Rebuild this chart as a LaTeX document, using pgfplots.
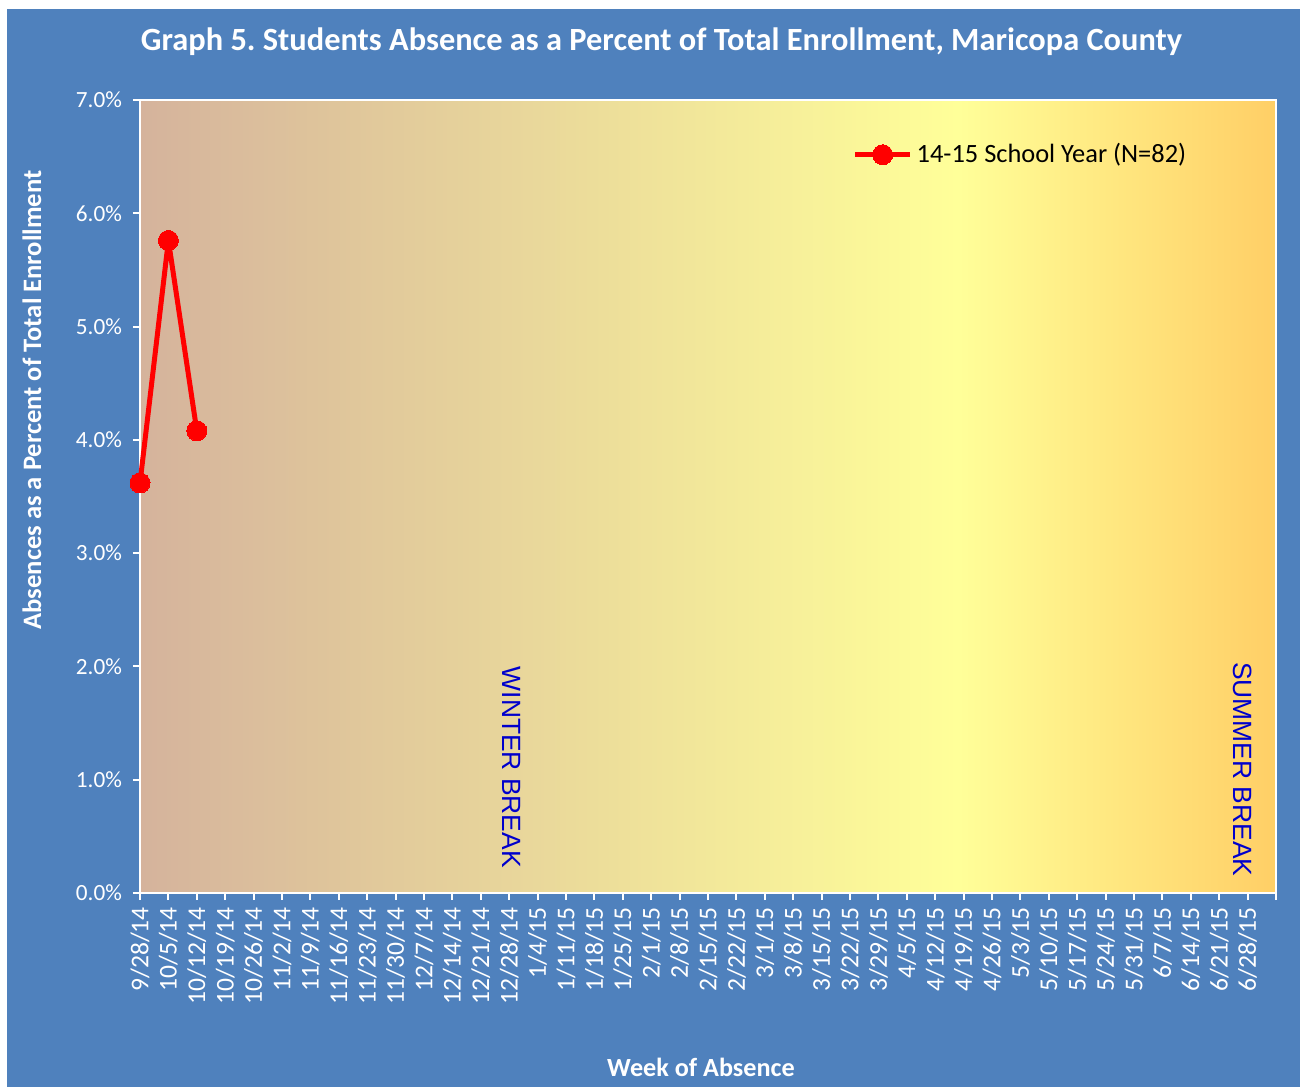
\documentclass[border=0pt]{standalone}
\usepackage{pgfplots}
\pgfplotsset{compat=1.18}
\usepackage{fontspec}
\setmainfont{Carlito}
\newfontfamily\arialfont{Liberation Sans}
\definecolor{bgblue}{RGB}{79,129,189}
\definecolor{breakblue}{RGB}{0,0,204}
\definecolor{linered}{RGB}{255,0,0}
\pgfdeclarehorizontalshading{plotbg}{100bp}{rgb(0bp)=(0.835,0.702,0.612); rgb(25bp)=(0.835,0.702,0.612); rgb(61bp)=(1,1,0.6); rgb(75bp)=(1,0.81,0.4); rgb(100bp)=(1,0.81,0.4)}
\begin{document}
\begin{tikzpicture}[x=1pt,y=1pt]
\fill[white] (0,0) rectangle (653,543.5);
\fill[bgblue] (3.5,0) rectangle (650,539);
\begin{axis}[
  at={(70pt,97pt)}, anchor=south west,
  scale only axis, width=568pt, height=396.5pt,
  xmin=0, xmax=40, ymin=0, ymax=7,
  axis background/.style={shading=plotbg},
  axis line style={white, line width=1pt},
  xtick={0,...,40},
  xticklabels={9/28/14,10/5/14,10/12/14,10/19/14,10/26/14,11/2/14,11/9/14,11/16/14,11/23/14,11/30/14,12/7/14,12/14/14,12/21/14,12/28/14,1/4/15,1/11/15,1/18/15,1/25/15,2/1/15,2/8/15,2/15/15,2/22/15,3/1/15,3/8/15,3/15/15,3/22/15,3/29/15,4/5/15,4/12/15,4/19/15,4/26/15,5/3/15,5/10/15,5/17/15,5/24/15,5/31/15,6/7/15,6/14/15,6/21/15,6/28/15,{}},
  ytick={0,...,7},
  yticklabel={\pgfmathprintnumber[fixed,precision=1,zerofill]{\tick}\%},
  /pgf/number format/assume math mode=true,
  tick style={white, line width=1pt},
  tick align=outside, major tick length=3.5pt,
  xtick pos=left, ytick pos=left,
  ticklabel style={white, font=\fontsize{11.6}{13}\selectfont},
  xticklabel style={rotate=90, anchor=east, font=\fontsize{12.8}{14}\selectfont},
  yticklabel style={xshift=-2pt},
  legend style={at={(axis description cs:0.627,0.931)}, anchor=west, draw=none, fill=none,
    font=\fontsize{13.2}{15}\selectfont, text=black, inner sep=0pt,
    nodes={inner sep=2pt}},
  legend image code/.code={\draw[mark repeat=2,mark phase=2] plot coordinates {(0pt,0pt) (13.75pt,0pt) (27.5pt,0pt)};},
  clip=false,
]
\addplot[color=linered, line width=2.5pt, line join=round, mark=*, mark size=5pt, mark options={fill=linered, draw=linered, line width=0pt}]
  coordinates {(0,3.62) (1,5.76) (2,4.08)};
\addlegendentry{14-15 School Year (N=82)}
\node[rotate=-90, anchor=west, inner sep=0pt, text=breakblue, font=\arialfont\fontsize{13.2}{14}\selectfont] at (axis cs:13.1,2.0) {WINTER BREAK};
\node[rotate=-90, anchor=west, inner sep=0pt, text=breakblue, font=\arialfont\fontsize{13.2}{14}\selectfont] at (axis cs:38.84,2.04) {SUMMER BREAK};
\end{axis}
\node[text=white, font=\bfseries\fontsize{16.2}{18}\selectfont] at (330.75,522.5) {Graph 5.\ Students Absence as a Percent of Total Enrollment, Maricopa County};
\node[text=white, font=\bfseries\fontsize{13.1}{15}\selectfont] at (350.5,10) {Week of Absence};
\node[text=white, rotate=90, font=\bfseries\fontsize{13.3}{15}\selectfont] at (16,343.5) {Absences as a Percent of Total Enrollment};
\pgfresetboundingbox
\path (0,0) rectangle (653,543.5);
\end{tikzpicture}
\end{document}
